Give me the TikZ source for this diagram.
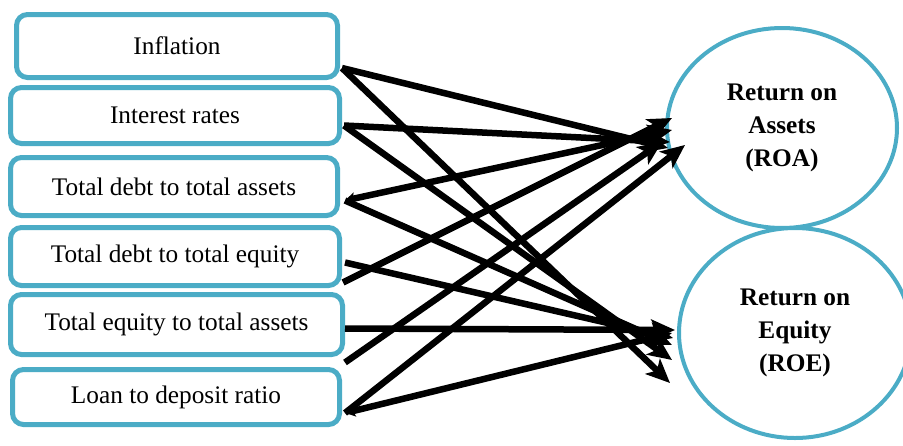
\documentclass[tikz,border=0pt]{standalone}
\usepackage{fontspec}
\setmainfont{Liberation Serif}
\usetikzlibrary{shapes.geometric,arrows.meta,calc}
\definecolor{aqua}{RGB}{75,172,198}
\tikzset{
  factor/.style={draw=aqua, line width=5pt, rounded corners=11pt, fill=white, inner sep=0pt,
    font=\fontsize{25.3}{30}\selectfont, text=black},
  outcome/.style={ellipse, draw=aqua, line width=4pt, inner sep=0pt, align=center,
    font=\fontsize{25.3}{33}\selectfont\bfseries, text=black},
  link/.style={line width=6.5pt, -{Stealth[length=24pt,width=21pt,inset=6pt]}},
  backlink/.style={line width=6.5pt, {Stealth[length=10pt,width=12pt,inset=2pt]}-{Stealth[length=24pt,width=21pt,inset=6pt]}}
}
\begin{document}
\begin{tikzpicture}[x=1pt,y=-1pt]
\useasboundingbox (0,0) rectangle (903,445);
% factor boxes
\node[factor, minimum width=321pt, minimum height=63pt] (b1) at (177,46) {Inflation};
\node[factor, minimum width=329pt, minimum height=56pt] (b2) at (175,115.5) {Interest rates};
\node[factor, minimum width=327pt, minimum height=58pt] (b3) at (174,186.5) {Total debt to total assets};
\node[factor, minimum width=329pt, minimum height=58pt] (b4) at (175,256.5) {Total debt to total equity};
\node[factor, minimum width=332pt, minimum height=60pt] (b5) at (176.5,324.5) {Total equity to total assets};
\node[factor, minimum width=327pt, minimum height=55pt] (b6) at (176,397) {Loan to deposit ratio};
% outcomes
\node[outcome, minimum width=230pt, minimum height=200pt] (roa) at (782,128) {Return on\\Assets\\(ROA)};
\node[outcome, minimum width=232pt, minimum height=210pt] (roe) at (795,333) {Return on\\Equity\\(ROE)};
% connectors to ROA
\draw[link] ($(b1.east)+(2,22)$) -- ($(roa.center)+(-114,20)$);
\draw[link] ($(b2.east)+(2,10)$) -- ($(roa.center)+(-112,14)$);
\draw[backlink] ($(b3.east)+(5,14)$) -- ($(roa.center)+(-110,2)$);
\draw[link] ($(b4.east)+(1,26)$) -- ($(roa.center)+(-110,-10)$);
\draw[link] ($(b5.east)+(0,38)$) -- ($(roa.center)+(-120,14)$);
\draw[link] ($(b6.east)+(3,16)$) -- ($(roa.center)+(-97,17)$);
% connectors to ROE
\draw[link] ($(b1.east)+(2,22)$) -- ($(roe.center)+(-125,50)$);
\draw[link] ($(b2.east)+(2,10)$) -- ($(roe.center)+(-123,27)$);
\draw[link] ($(b3.east)+(5,14)$) -- ($(roe.center)+(-123,12)$);
\draw[link] ($(b4.east)+(3,6)$) -- ($(roe.center)+(-122,5)$);
\draw[link] ($(b5.east)+(0,4)$) -- ($(roe.center)+(-120,-3)$);
\draw[backlink] ($(b6.east)+(3,16)$) -- ($(roe.center)+(-123,0)$);
\end{tikzpicture}
\end{document}
